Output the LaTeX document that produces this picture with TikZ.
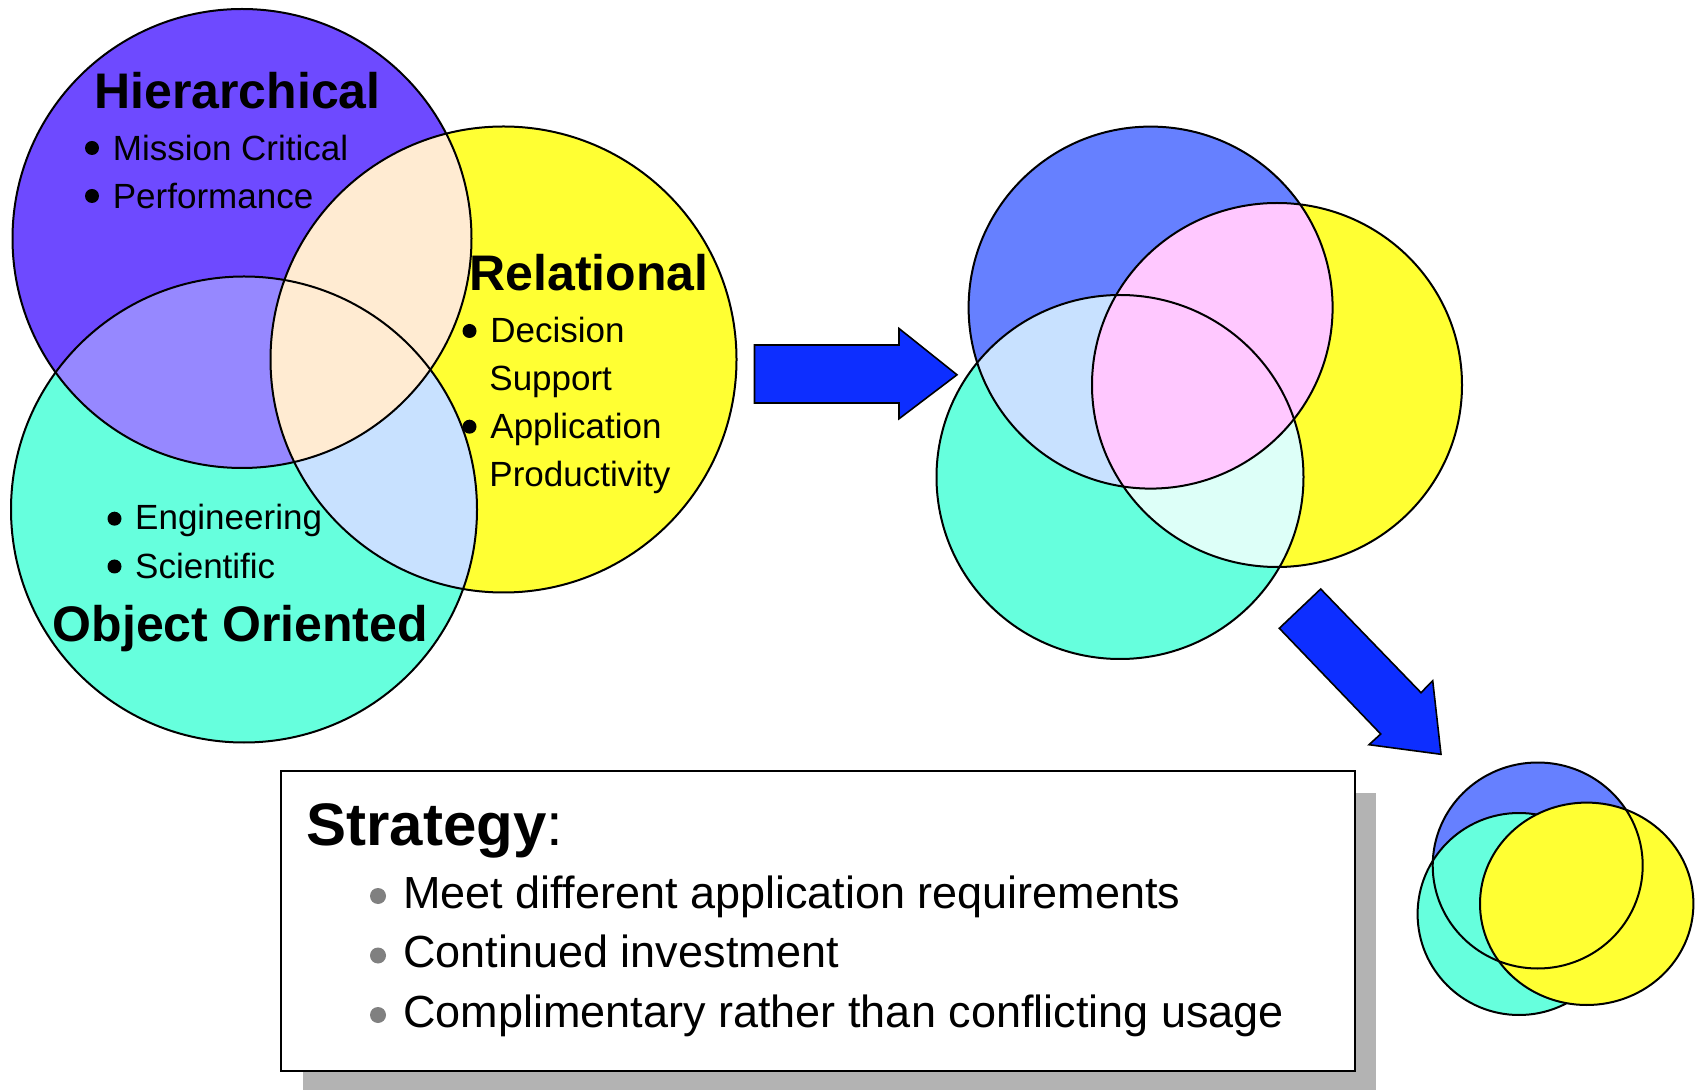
\documentclass[tikz,border=0pt]{standalone}
\usepackage{fontspec}
\setmainfont{Liberation Sans}
\definecolor{hpurple}{RGB}{110,74,255}
\definecolor{ryellow}{RGB}{255,255,51}
\definecolor{oteal}{RGB}{102,255,221}
\definecolor{lav}{RGB}{150,136,255}
\definecolor{peach}{RGB}{255,235,210}
\definecolor{lblue}{RGB}{200,225,255}
\definecolor{mblue}{RGB}{102,128,255}
\definecolor{vpink}{RGB}{255,200,255}
\definecolor{lcyan}{RGB}{221,255,248}
\definecolor{arrowblue}{RGB}{13,46,255}
\definecolor{shadowgray}{RGB}{179,179,179}
\definecolor{bulletgray}{RGB}{128,128,128}
\begin{document}
\begin{tikzpicture}[x=0.5pt,y=-0.5pt,
  outline/.style={draw=black,line width=1pt},
  title/.style={anchor=base west,inner sep=0pt,font=\fontsize{25pt}{30pt}\selectfont\bfseries},
  item/.style={anchor=base west,inner sep=0pt,font=\fontsize{17.5pt}{21pt}\selectfont},
  dot/.style={circle,fill=black,minimum size=7pt,inner sep=0pt},
  graydot/.style={circle,fill=bulletgray,minimum size=8pt,inner sep=0pt},
  sitem/.style={anchor=base west,inner sep=0pt,font=\fontsize{22.5pt}{27pt}\selectfont},
  bigarrow/.style={fill=arrowblue,draw=black,line width=0.8pt,line join=miter}]
\useasboundingbox (0,0) rectangle (1703,1090);
% ---------- first Venn ----------
\def\Pc{(242,238.5) circle[radius=114.75pt]}
\def\Yc{(503.5,359.5) circle[radius=116.5pt]}
\def\Tc{(244,509.5) circle[radius=116.5pt]}
\fill[hpurple] \Pc;
\fill[ryellow] \Yc;
\fill[oteal] \Tc;
\begin{scope}\clip \Pc; \fill[lav] \Tc; \end{scope}
\begin{scope}\clip \Yc; \fill[lblue] \Tc; \end{scope}
\begin{scope}\clip \Pc; \fill[peach] \Yc; \end{scope}
\draw[outline] \Pc;
\draw[outline] \Yc;
\draw[outline] \Tc;
\node[title] (hier) at (94,109) {Hierarchical};
\node[dot] (bh1) at (92,148) {};
\node[item] (mc) at (112.5,161) {Mission Critical};
\node[dot] (bh2) at (92,196) {};
\node[item] (perf) at (112.5,208.5) {Performance};
\node[title] (rel) at (469,291) {Relational};
\node[dot] (br1) at (469.5,331) {};
\node[item] (dec) at (490,342.7) {Decision};
\node[item] (sup) at (489,390.5) {Support};
\node[dot] (br2) at (469.5,426.7) {};
\node[item] (app) at (490,438.7) {Application};
\node[item] (prod) at (489,486.3) {Productivity};
\node[dot] (bo1) at (114.5,518.7) {};
\node[item] (eng) at (134.8,530) {Engineering};
\node[dot] (bo2) at (114.5,566.5) {};
\node[item] (sci) at (134.8,578.3) {Scientific};
\node[title] (oo) at (52.4,642) {Object Oriented};
% ---------- right arrow ----------
\draw[bigarrow] (754.5,345) -- (899,345) -- (899,328.5) -- (957,374.8) -- (899,418.8) -- (899,403) -- (754.5,403) -- cycle;
% ---------- second Venn ----------
\def\Bc{(1150.6,307.6) ellipse[x radius=91pt,y radius=90.5pt]}
\def\Yb{(1277,385) ellipse[x radius=92.5pt,y radius=91pt]}
\def\Tb{(1120,477) ellipse[x radius=91.75pt,y radius=91pt]}
\fill[mblue] \Bc;
\fill[ryellow] \Yb;
\fill[oteal] \Tb;
\begin{scope}\clip \Bc; \fill[lblue] \Tb; \end{scope}
\begin{scope}\clip \Yb; \fill[lcyan] \Tb; \end{scope}
\begin{scope}\clip \Bc; \fill[vpink] \Yb; \end{scope}
\draw[outline] \Bc;
\draw[outline] \Yb;
\draw[outline] \Tb;
% ---------- diagonal arrow ----------
\draw[bigarrow] (1320.7,589) -- (1421,692.7) -- (1432.7,680.7) -- (1441,754.3) -- (1369,744.7) -- (1380.7,734) -- (1279.3,628.3) -- cycle;
% ---------- third Venn ----------
\def\Bs{(1537.7,865.5) ellipse[x radius=52.5pt,y radius=51.5pt]}
\def\Ts{(1519,914) ellipse[x radius=50.7pt,y radius=50.5pt]}
\def\Ys{(1586.7,903.8) ellipse[x radius=53.35pt,y radius=50.6pt]}
\fill[mblue] \Bs;
\draw[outline,fill=oteal] \Ts;
\draw[outline,fill=ryellow] \Ys;
\draw[outline] \Bs;
% ---------- strategy box ----------
\fill[shadowgray] (302.5,792.5) rectangle (1376,1090);
\draw[fill=white,line width=1pt] (281,771) rectangle (1354.5,1071);
\node[anchor=base west,inner sep=0pt,font=\fontsize{30pt}{36pt}\selectfont] (strat) at (306,845) {\textbf{Strategy}:};
\node[graydot] (s1) at (378,896) {};
\node[sitem] (t1) at (403,908.3) {Meet different application requirements};
\node[graydot] (s2) at (378,955.5) {};
\node[sitem] (t2) at (403,967.7) {Continued investment};
\node[graydot] (s3) at (378,1015) {};
\node[sitem] (t3) at (403,1027.2) {Complimentary rather than conflicting usage};
\end{tikzpicture}
\end{document}
